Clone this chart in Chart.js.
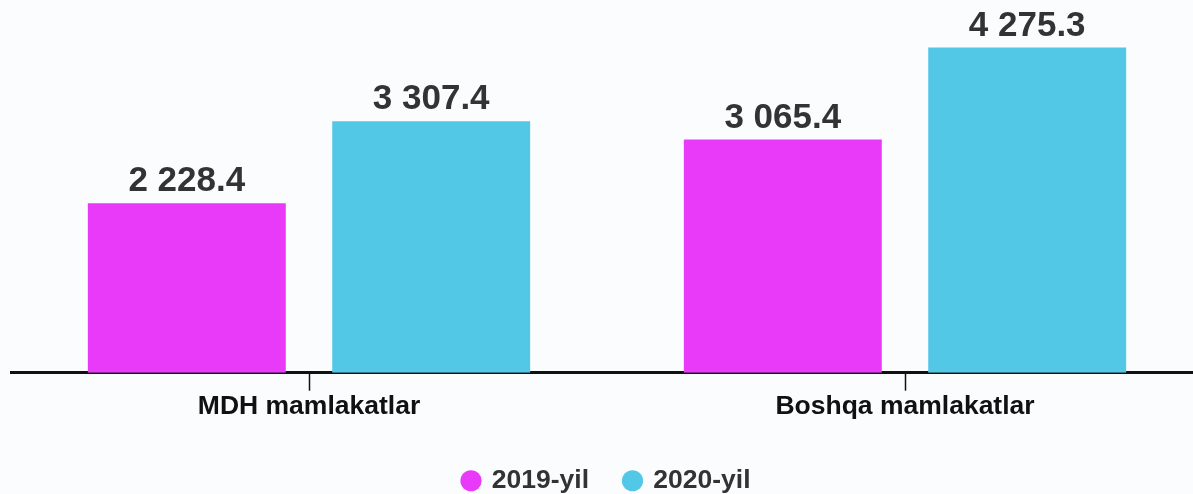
<!DOCTYPE html>
<html>
<head>
<meta charset="utf-8">
<script src="https://cdn.jsdelivr.net/npm/chart.js@4/dist/chart.umd.min.js"></script>
<style>
  html, body { margin: 0; padding: 0; background: #fbfcfe; overflow: hidden; }
  .chart-wrap { width: 1205px; height: 494px; position: relative; }
</style>
</head>
<body>
<div class="chart-wrap"><canvas id="chart"></canvas></div>
<script>
const categories = ['MDH mamlakatlar', 'Boshqa mamlakatlar'];
const seriesNames = ['2019-yil', '2020-yil'];
const values2019 = [2228.4, 3065.4];
const values2020 = [3307.4, 4275.3];
const seriesColors = ['#e83af8', '#53c8e6'];

const FONT = 'Arial, "Liberation Sans", sans-serif';

function formatValue(v) {
  const parts = v.toFixed(1).split('.');
  return parts[0].replace(/\B(?=(\d{3})+(?!\d))/g, ' ') + '.' + parts[1];
}

// labels above every bar
const valueLabels = {
  id: 'valueLabels',
  afterDatasetsDraw(chart) {
    const ctx = chart.ctx;
    ctx.save();
    ctx.font = 'bold 35px ' + FONT;
    ctx.fillStyle = '#333333';
    ctx.textAlign = 'center';
    ctx.textBaseline = 'bottom';
    chart.data.datasets.forEach((ds, i) => {
      chart.getDatasetMeta(i).data.forEach((bar, j) => {
        ctx.fillText(formatValue(ds.data[j]), bar.x, bar.y - 4);
      });
    });
    ctx.restore();
  },
};

const ctx = document.getElementById('chart').getContext('2d');
// eslint-disable-next-line no-unused-vars
const chart = new Chart(ctx, {
  type: 'bar',
  data: {
    labels: categories,
    datasets: [
      { label: seriesNames[0], data: values2019, backgroundColor: seriesColors[0], borderWidth: 0 },
      { label: seriesNames[1], data: values2020, backgroundColor: seriesColors[1], borderWidth: 0 },
    ],
  },
  options: {
    responsive: true,
    maintainAspectRatio: false,
    animation: false,
    categoryPercentage: 0.82,
    barPercentage: 0.81,
    layout: { padding: { left: 11, right: 2, top: 0, bottom: -10 } },
    plugins: {
      tooltip: { enabled: false },
      legend: {
        position: 'bottom',
        labels: {
          usePointStyle: true,
          pointStyle: 'circle',
          boxWidth: 15,
          boxHeight: 15,
          padding: 36,
          color: '#333333',
          font: { family: FONT, size: 26.5, weight: 'bold' },
        },
      },
    },
    scales: {
      x: {
        // extra room under the category names
        afterFit(scale) { scale.height += 9; },
        grid: {
          offset: false,
          drawOnChartArea: false,
          drawTicks: true,
          tickLength: 18,
          tickWidth: 1.5,
          tickColor: '#111111',
        },
        border: { display: true, color: '#111111', width: 3 },
        ticks: {
          padding: 0,
          color: '#111111',
          font: { family: FONT, size: 26.5, weight: 'bold' },
        },
      },
      y: {
        display: false,
        min: 0,
        max: 4900,
      },
    },
  },
  plugins: [valueLabels],
});
</script>
</body>
</html>
